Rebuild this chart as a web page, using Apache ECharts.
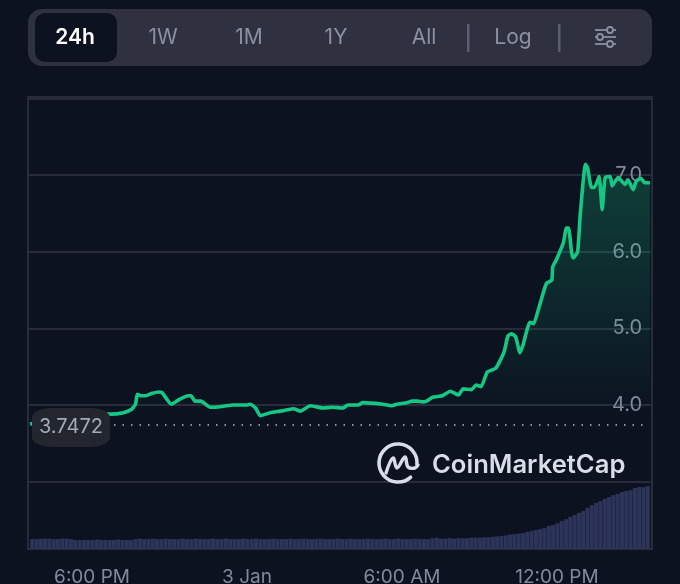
<!DOCTYPE html>
<html><head><meta charset="utf-8">
<style>html,body{margin:0;padding:0;background:#0c1220}#c{width:680px;height:584px}</style>
<script src="https://cdn.jsdelivr.net/npm/echarts@6/dist/echarts.min.js"></script>
</head><body><div id="c"></div>
<script>
// minutes after 15:36 on 2 Jan
const priceMinutes = [0,40,85,132,187,217,235,245,249,258,268,282,300,307,328,346,367,374,383,397,418,429,455,471,505,512,524,535,558,582,612,628,651,681,702,727,738,762,773,819,840,852,875,888,900,912,921,935,958,976,995,1006,1025,1036,1048,1062,1082,1101,1110,1119,1128,1138,1145,1161,1170,1182,1193,1200,1212,1214,1223,1239,1246,1251,1258,1262,1272,1278,1290,1295,1304,1311,1322,1329,1336,1348,1352,1366,1382,1389,1401,1408,1419,1428,1440];
const prices = [3.75,3.80,3.88,3.91,3.88,3.90,3.94,4.01,4.14,4.12,4.12,4.15,4.17,4.16,4.01,4.07,4.12,4.12,4.05,4.05,3.97,3.97,3.99,4.00,4.00,4.01,3.96,3.86,3.90,3.92,3.95,3.92,3.99,3.96,3.97,3.96,4.00,4.00,4.03,4.01,3.99,4.01,4.03,4.05,4.05,4.04,4.05,4.10,4.12,4.18,4.13,4.21,4.20,4.26,4.24,4.43,4.48,4.69,4.90,4.93,4.89,4.68,4.78,5.08,5.06,5.27,5.48,5.59,5.63,5.80,5.90,6.12,6.31,6.31,5.99,5.92,6.00,6.48,7.14,7.10,6.84,6.84,6.98,6.55,6.97,6.98,6.86,6.97,6.88,6.94,6.81,6.92,6.96,6.90,6.90];
// one volume bar every 10 minutes
const volumes = [2.2,2.2,2.3,2.3,2.3,2.2,2.2,2.3,2.3,2.2,2.0,2.0,2.0,2.0,2.0,2.1,2.0,2.0,2.0,2.0,2.1,2.0,2.0,2.0,2.2,2.3,2.2,2.2,2.3,2.2,2.2,2.3,2.2,2.2,2.2,2.3,2.2,2.2,2.3,2.2,2.2,2.2,2.3,2.2,2.2,2.3,2.2,2.2,2.2,2.3,2.2,2.2,2.3,2.2,2.2,2.2,2.3,2.2,2.2,2.2,2.3,2.2,2.2,2.3,2.2,2.2,2.2,2.3,2.2,2.2,2.2,2.3,2.2,2.2,2.3,2.2,2.2,2.2,2.3,2.2,2.2,2.2,2.3,2.2,2.2,2.3,2.2,2.2,2.2,2.3,2.2,2.2,2.2,2.4,2.5,2.3,2.3,2.4,2.3,2.4,2.4,2.4,2.5,2.5,2.5,2.6,2.6,2.7,2.8,2.9,3.0,3.2,3.3,3.4,3.5,3.8,4.0,4.2,4.4,4.6,5.1,5.3,5.7,6.2,6.6,7.1,7.5,8.0,8.4,9.1,9.7,10.2,10.6,11.1,11.5,11.9,12.2,12.6,12.8,13.0,13.5,13.7,13.7,13.9];
const tabs = ['24h','1W','1M','1Y','All','Log'];
const lastPrice = 3.7472;
const dottedFromMinute = 195, dottedToMinute = 1427, badgeMinute = 95;

const start = new Date(2024,0,2,15,36).getTime();
const t = m => start + m*60000;
const linePts = priceMinutes.map((m,i)=>[t(m),prices[i]]);
const barPts = volumes.map((v,i)=>[t(5+10*i),v]);
const font = 'Inter';
const tabX = [75,163,249,336,424,513];

const chart = echarts.init(document.getElementById('c'),null,{renderer:'canvas'});
chart.setOption({
  animation:false,
  backgroundColor:'#0c1220',
  grid:{left:28,right:28,top:97,bottom:35,outerBoundsMode:'none',show:true,borderColor:'#282c3a',borderWidth:2,backgroundColor:'transparent'},
  xAxis:{type:'time',min:t(0),max:t(1440),splitNumber:4,
    axisLine:{show:false},axisTick:{show:false},splitLine:{show:false},minorTick:{show:false},
    axisLabel:{color:'#808a9d',fontFamily:font,fontSize:19,margin:19,hideOverlap:false,showMinLabel:false,showMaxLabel:false,
      formatter:v=>{const d=new Date(v),h=d.getHours(),m=d.getMinutes();
        if(m!==0||h%6!==0)return '';
        return h===18?'6:00 PM':h===0?'3 Jan':h===6?'6:00 AM':'12:00 PM';}}},
  yAxis:[
    {type:'value',position:'right',min:2.12,max:8.02,splitNumber:6,
     axisLine:{show:false},axisTick:{show:false},
     splitLine:{show:true,lineStyle:{color:'#282c3a',width:2}},
     axisLabel:{inside:true,color:'#808a9d',fontFamily:font,fontSize:20,margin:10,showMinLabel:false,showMaxLabel:false,
       formatter:v=>(v>=4&&v<=7&&Number.isInteger(v))?v.toFixed(1):''}},
    {type:'value',min:0,max:100,show:false,splitLine:{show:false}}
  ],
  series:[
    {type:'bar',yAxisIndex:1,data:barPts,barWidth:4.1,itemStyle:{color:'#2c3459'},silent:true,z:1},
    {type:'line',yAxisIndex:0,data:linePts,smooth:0.15,showSymbol:false,
     lineStyle:{color:'#16c784',width:3.6},
     areaStyle:{origin:'start',color:new echarts.graphic.LinearGradient(0,0,0,1,[
       {offset:0,color:'rgba(22,199,132,0.36)'},{offset:0.66,color:'rgba(22,199,132,0)'},{offset:1,color:'rgba(22,199,132,0)'}])},
     z:3,
     markLine:{silent:true,symbol:'none',animation:false,label:{show:false},
       lineStyle:{color:'#b9bfca',type:[1.5,7],width:1.5},
       data:[[{coord:[t(dottedFromMinute),lastPrice]},{coord:[t(dottedToMinute),lastPrice]}]]},
     markPoint:{silent:true,animation:false,symbol:'roundRect',symbolSize:[78,39],
       itemStyle:{color:'#23262f'},
       label:{show:true,position:'inside',color:'#a3abb8',fontFamily:font,fontSize:20,formatter:()=>String(lastPrice)},
       data:[{coord:[t(badgeMinute),lastPrice-0.04]}]}}
  ],
  graphic:[
    {type:'rect',shape:{x:28,y:9,width:624,height:57,r:14},style:{fill:'#2f3140'},z:10},
    {type:'rect',shape:{x:35,y:13,width:82,height:49,r:10},style:{fill:'#0c1220'},z:11},
    ...tabs.map((s,i)=>({type:'text',x:tabX[i],y:38,z:12,style:{text:s,fontFamily:font,fontSize:21,fontWeight:i===0?600:400,fill:i===0?'#ffffff':'#8b90a3',align:'center',verticalAlign:'middle'}})),
    {type:'rect',shape:{x:467,y:24,width:2.5,height:28},style:{fill:'#5a5e70'},z:12},
    {type:'rect',shape:{x:558,y:24,width:2.5,height:28},style:{fill:'#5a5e70'},z:12},
    ...[[30,610],[37,600],[44,610]].map(([y,cx])=>[
      {type:'line',shape:{x1:595,y1:y,x2:616,y2:y},style:{stroke:'#8b90a3',lineWidth:1.8},z:12},
      {type:'circle',shape:{cx,cy:y,r:3},style:{fill:'#2f3140',stroke:'#8b90a3',lineWidth:1.8},z:13}]).flat(),
    {type:'arc',shape:{cx:398,cy:463,r:19,startAngle:0.08,endAngle:0.85,clockwise:false},style:{stroke:'#d9dde6',lineWidth:3.6,fill:null,lineCap:'round'},z:5},
    {type:'polyline',shape:{points:[[386,473],[393,458],[397,468],[405,457],[408,467],[415,468],[418,465]],smooth:0.4},style:{stroke:'#d9dde6',lineWidth:3.4,fill:null,lineCap:'round',lineJoin:'round'},z:5},
    {type:'text',x:432,y:465,z:5,style:{text:'CoinMarketCap',fontFamily:font,fontSize:25.6,fontWeight:600,fill:'#d9dde6',align:'left',verticalAlign:'middle'}}
  ]
});
</script></body></html>
